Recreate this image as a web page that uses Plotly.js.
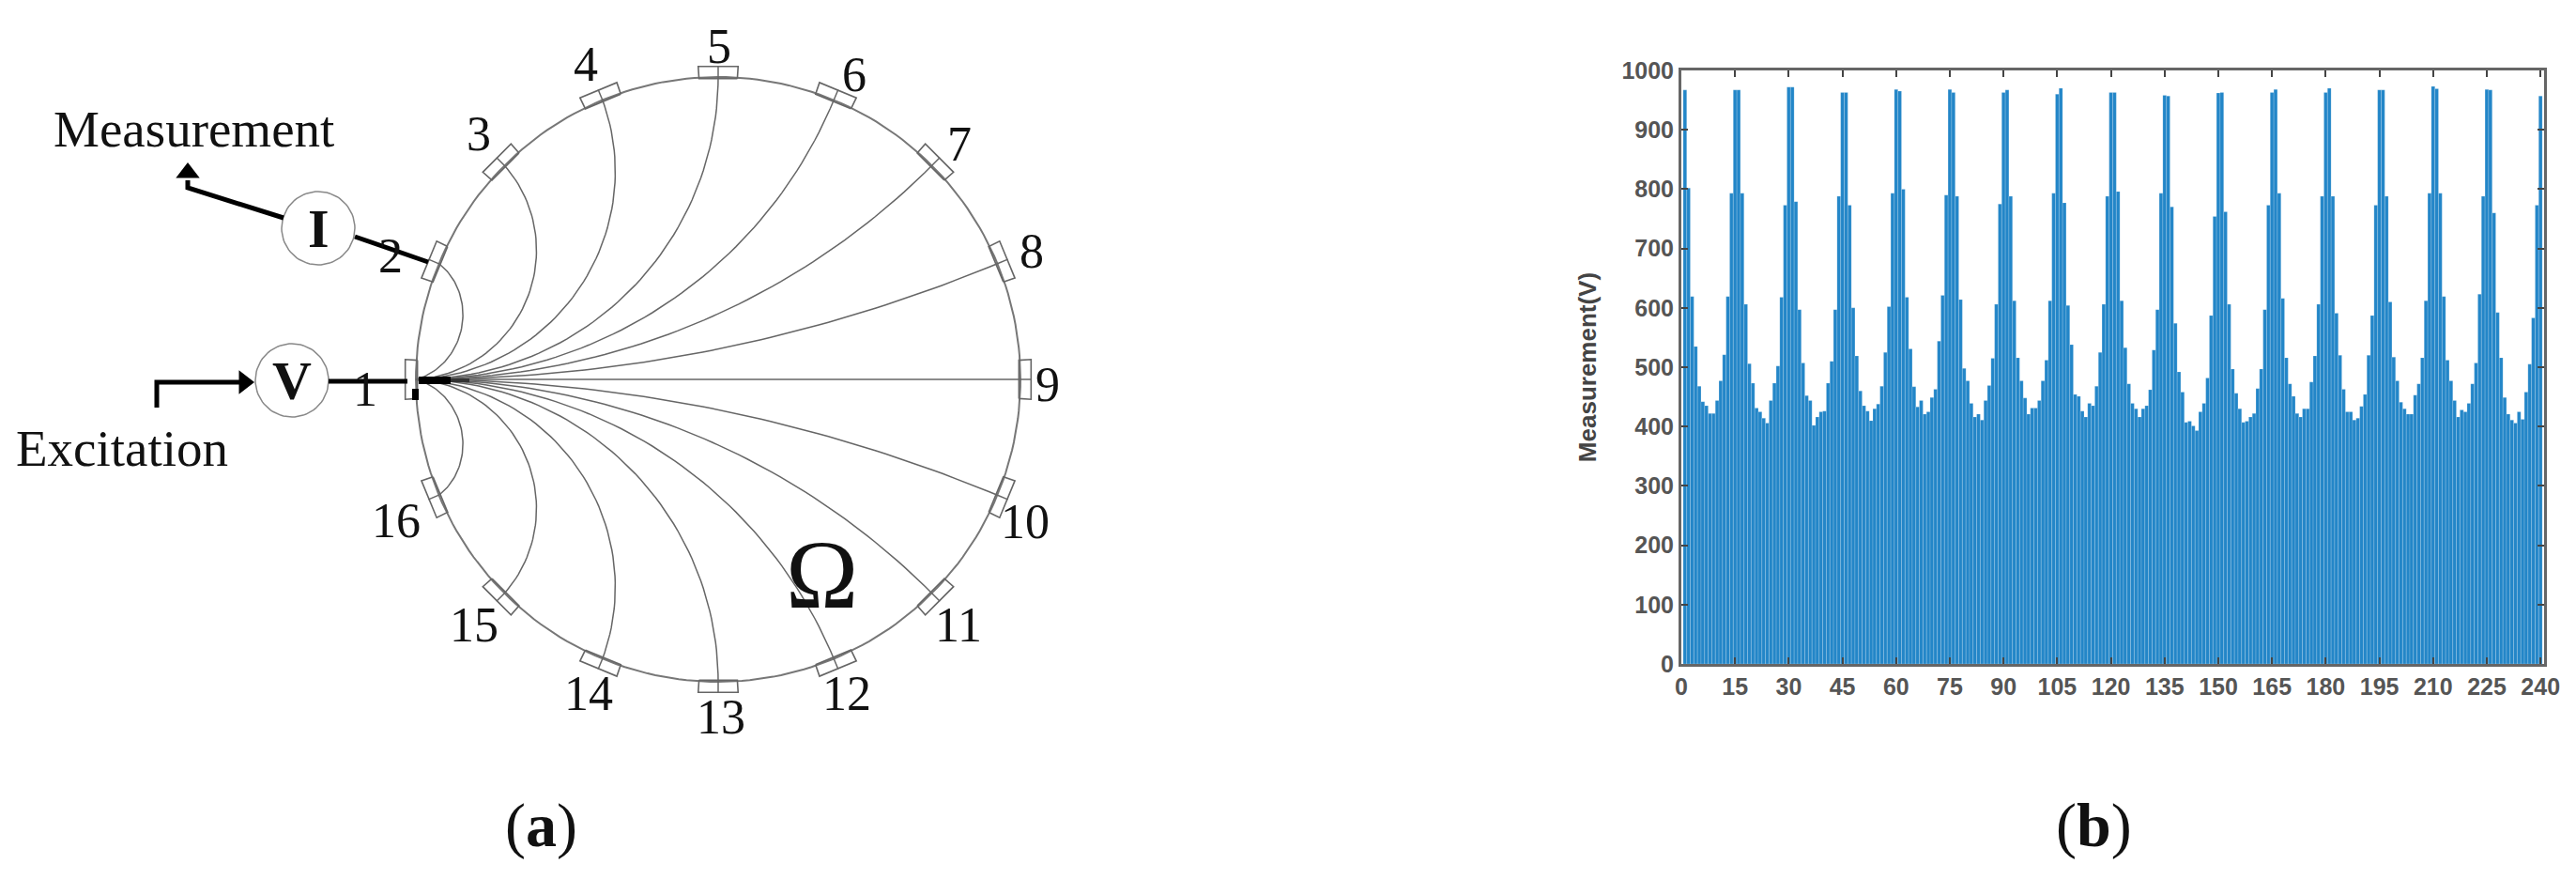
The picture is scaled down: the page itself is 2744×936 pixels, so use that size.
<!DOCTYPE html>
<html>
<head>
<meta charset="utf-8">
<script src="https://cdn.plot.ly/plotly-3.0.1.min.js"></script>
<style>
  body { margin: 0; background: #fff; }
</style>
</head>
<body>
<div id="myDiv"></div>
<script>
const measurement = [
  967, 802, 619, 535, 468, 442, 435, 422, 422, 444, 477, 521, 619, 793, 967,
  967, 793, 606, 506, 473, 431, 425, 414, 406, 444, 473, 502, 618, 773, 972,
  972, 779, 597, 507, 452, 444, 402, 416, 425, 426, 473, 510, 597, 788, 963,
  963, 773, 600, 519, 460, 435, 426, 410, 430, 438, 468, 525, 602, 793, 968,
  965, 800, 618, 531, 467, 433, 444, 421, 425, 449, 463, 544, 621, 790, 968,
  963, 788, 614, 498, 477, 439, 416, 421, 411, 444, 469, 515, 606, 775, 963,
  967, 788, 612, 516, 477, 448, 421, 431, 431, 444, 477, 512, 612, 793, 960,
  970, 777, 604, 538, 454, 451, 426, 416, 439, 435, 468, 525, 606, 788, 963,
  963, 796, 612, 533, 472, 439, 430, 416, 430, 435, 462, 529, 597, 793, 958,
  957, 770, 574, 492, 458, 407, 409, 401, 393, 425, 439, 482, 587, 754, 962,
  963, 762, 606, 497, 456, 430, 407, 409, 416, 422, 464, 497, 597, 773, 963,
  968, 793, 616, 516, 472, 451, 422, 416, 430, 430, 475, 519, 606, 788, 963,
  970, 788, 591, 520, 463, 425, 425, 411, 414, 434, 454, 520, 587, 773, 967,
  967, 788, 610, 517, 477, 441, 430, 421, 421, 453, 472, 516, 612, 793, 973,
  969, 793, 619, 512, 477, 444, 416, 428, 425, 439, 472, 507, 623, 788, 968,
  967, 760, 592, 516, 449, 421, 411, 406, 425, 412, 458, 505, 583, 773, 957,
];
const barIndex = measurement.map((v, i) => i + 1);
const xTicks = [0, 15, 30, 45, 60, 75, 90, 105, 120, 135, 150, 165, 180, 195, 210, 225, 240];
const yTicks = [0, 100, 200, 300, 400, 500, 600, 700, 800, 900, 1000];

const electrodeNames = ["1", "2", "3", "4", "5", "6", "7", "8", "9", "10", "11", "12", "13", "14", "15", "16"];

// panel (a) is drawn in page pixels on a hidden overlay axis
const nameX = [389, 416, 510, 624, 766, 910, 1022, 1099, 1116, 1092, 1021, 902, 768, 627, 505, 422];
const nameY = [414, 272, 142, 68, 49, 79, 153, 267, 409, 555, 665, 738, 763, 738, 665, 554];
const CX = 765;
const CY = 404;
const R = 322;

const W = 2744;
const H = 936;

function electrode_angle(k) {
  return Math.PI - (k * Math.PI) / 8; // k=0 is electrode 1, then clockwise
}

function on_ring(angle, r) {
  return [CX + r * Math.cos(angle), CY - r * Math.sin(angle)];
}

function line_trace(pts, color, width) {
  return {
    x: pts.map((p) => p[0]),
    y: pts.map((p) => p[1]),
    xaxis: "x2",
    yaxis: "y2",
    type: "scatter",
    mode: "lines",
    line: { color: color, width: width },
    hoverinfo: "skip",
  };
}

function ring_trace() {
  let pts = [];
  for (let i = 0; i <= 240; i++) {
    pts.push(on_ring((i / 240) * 2 * Math.PI, R));
  }
  return line_trace(pts, "#777", 2);
}

function box_trace(k) {
  const a = electrode_angle(k);
  const half = 20.5 / R;
  const pts = [
    on_ring(a - half, R - 1),
    on_ring(a - half, R + 12),
    on_ring(a + half, R + 12),
    on_ring(a + half, R - 1),
    on_ring(a - half, R - 1),
  ];
  return line_trace(pts, "#666", 1.6);
}

// the short arcs bulge a bit less in the picture than a true arc
function bulge_scale(k) {
  const steps = Math.min(k, 16 - k);
  if (steps == 1) return 0.72;
  if (steps == 2) return 0.93;
  if (steps == 3) return 0.95;
  return 1;
}

// arc leaving electrode 1 and meeting the ring square on at electrode k
function field_line(k) {
  const a0 = electrode_angle(0);
  let a1 = electrode_angle(k);
  if (k > 8) a1 += 2 * Math.PI; // lower half goes round the other way
  const d = Math.abs(a1 - a0);
  const start = on_ring(a0, R);
  const end = on_ring(a1, R);
  let pts = [];
  if (k == 8) {
    pts = [start, end];
  } else {
    const mid = (a0 + a1) / 2;
    const c = on_ring(mid, R / Math.cos(d / 2));
    const rad = R * Math.tan(d / 2);
    const s = bulge_scale(k);
    const t0 = Math.atan2(start[1] - c[1], start[0] - c[0]);
    let t1 = Math.atan2(end[1] - c[1], end[0] - c[0]);
    if (t1 - t0 > Math.PI) t1 -= 2 * Math.PI;
    if (t1 - t0 < -Math.PI) t1 += 2 * Math.PI;
    for (let i = 0; i <= 60; i++) {
      const f = i / 60;
      const t = t0 + (t1 - t0) * f;
      const cx = start[0] + (end[0] - start[0]) * f;
      const cy = start[1] + (end[1] - start[1]) * f;
      pts.push([
        cx + (c[0] + rad * Math.cos(t) - cx) * s,
        cy + (c[1] + rad * Math.sin(t) - cy) * s,
      ]);
    }
  }
  pts.push(on_ring(a1, R + 12));
  return line_trace(pts, "#666", 1.5);
}

function circle_trace(cx, cy, r) {
  let pts = [];
  for (let i = 0; i <= 80; i++) {
    const t = (i / 80) * 2 * Math.PI;
    pts.push([cx + r * Math.cos(t), cy + r * Math.sin(t)]);
  }
  return line_trace(pts, "#888", 1.5);
}

function marker_trace(x, y, symbol, size) {
  return {
    x: [x],
    y: [y],
    xaxis: "x2",
    yaxis: "y2",
    type: "scatter",
    mode: "markers",
    marker: { symbol: symbol, size: size, color: "#000" },
    hoverinfo: "skip",
  };
}

function diagram_traces() {
  let traces = [ring_trace()];
  for (let k = 1; k < 16; k++) {
    traces.push(field_line(k));
  }
  for (let k = 0; k < 16; k++) {
    traces.push(box_trace(k));
  }
  traces.push(circle_trace(339, 243, 39));
  traces.push(circle_trace(311, 405, 39));
  // thick leads
  traces.push(line_trace([[167, 434], [167, 407], [256, 407]], "#000", 5));
  traces.push(line_trace([[350, 406], [434, 406]], "#000", 5));
  traces.push(line_trace([[200, 192], [200, 200], [302, 232]], "#000", 5));
  traces.push(line_trace([[378, 252], [456, 279]], "#000", 5));
  traces.push(marker_trace(260, 407, "triangle-right", 22));
  traces.push(marker_trace(200, 184, "triangle-up", 22));
  // dark wedge where the lines bunch up at electrode 1
  traces.push(line_trace([[446, 405], [480, 405]], "#000", 8));
  traces.push(line_trace([[480, 405], [500, 405]], "#333", 4));
  traces.push(line_trace([[439, 420], [446, 420]], "#000", 12));
  return traces;
}

function text_note(x, y, text, size) {
  return {
    x: x,
    y: y,
    xref: "x2",
    yref: "y2",
    text: text,
    showarrow: false,
    xanchor: "center",
    yanchor: "middle",
    font: { family: "Liberation Serif", size: size, color: "#111" },
  };
}

function gen_annotations() {
  let notes = electrodeNames.map((n, i) => text_note(nameX[i], nameY[i], n, 52));
  notes.push(text_note(206, 137, "Measurement", 55));
  notes.push(text_note(130, 477, "Excitation", 55));
  notes.push(text_note(339, 243, "<b>I</b>", 58));
  notes.push(text_note(311, 405, "<b>V</b>", 58));
  notes.push(text_note(875, 611, "Ω", 104));
  notes.push(text_note(576, 879, "(<b>a</b>)", 66));
  notes.push(text_note(2230, 879, "(<b>b</b>)", 66));
  return notes;
}

const bars = {
  x: barIndex,
  y: measurement,
  type: "bar",
  width: 1,
  marker: { color: "#2386c8", line: { width: 0.8, color: "rgba(255,255,255,0.22)" } },
  hoverinfo: "skip",
};

const tickFont = { family: "Liberation Sans", size: 25, color: "#555", weight: "bold" };

const layout = {
  width: W,
  height: H,
  margin: { l: 0, r: 0, t: 0, b: 0, pad: 0 },
  paper_bgcolor: "#fff",
  plot_bgcolor: "rgba(0,0,0,0)", // overlay axis must not hide the bars
  showlegend: false,
  hovermode: false,
  xaxis: {
    domain: [1791 / W, 2710 / W],
    range: [0, 241],
    tickmode: "array",
    tickvals: xTicks,
    ticktext: xTicks.map(String),
    ticks: "inside",
    ticklen: 7,
    tickwidth: 2,
    tickcolor: "#444",
    tickfont: tickFont,
    showline: true,
    linecolor: "#666",
    linewidth: 3,
    mirror: "ticks",
    showgrid: false,
    zeroline: false,
  },
  yaxis: {
    domain: [1 - 707 / H, 1 - 75 / H],
    range: [0, 1000],
    tickmode: "array",
    tickvals: yTicks,
    ticktext: yTicks.map(String),
    ticks: "inside",
    ticklen: 7,
    tickwidth: 2,
    tickcolor: "#444",
    tickfont: tickFont,
    showline: true,
    linecolor: "#666",
    linewidth: 3,
    mirror: "ticks",
    showgrid: false,
    zeroline: false,
    title: {
      text: "Measurement(V)",
      standoff: 20,
      font: { family: "Liberation Sans", size: 26, color: "#444", weight: "bold" },
    },
  },
  xaxis2: { domain: [0, 1], range: [0, W], visible: false, anchor: "y2", fixedrange: true },
  yaxis2: { domain: [0, 1], range: [H, 0], visible: false, anchor: "x2", fixedrange: true },
  annotations: gen_annotations(),
};

const config = { displayModeBar: false, staticPlot: true };

Plotly.newPlot("myDiv", [bars].concat(diagram_traces()), layout, config);
</script>
</body>
</html>
